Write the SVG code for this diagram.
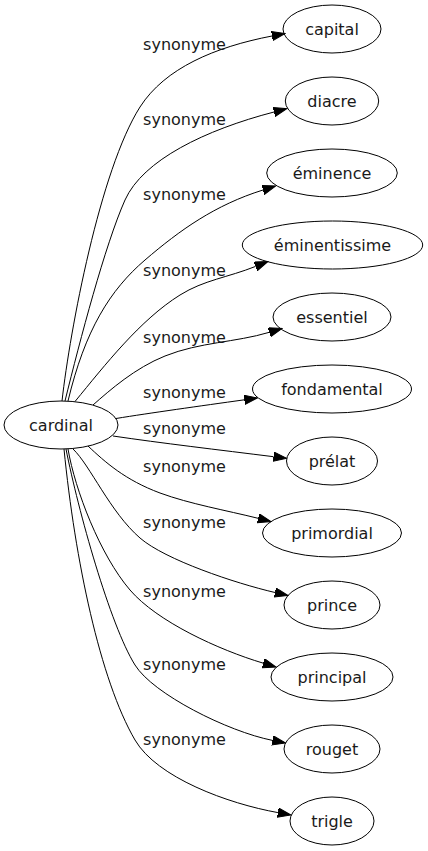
<svg xmlns="http://www.w3.org/2000/svg" width="428" height="851" viewBox="0 0 428 851">
<style>
.n ellipse{fill:none;stroke:#000;stroke-width:1}
text{font-family:"DejaVu Sans","Liberation Sans",sans-serif;font-size:16px;fill:#1a1a1a;text-anchor:middle}
.e path{fill:none;stroke:#000;stroke-width:1;marker-end:url(#ah)}
</style>
<defs>
<marker id="ah" markerUnits="userSpaceOnUse" markerWidth="14" markerHeight="10" refX="0" refY="4.67" orient="auto" viewBox="0 0 14 10">
<path d="M0,0 L13.3,4.67 L0,9.33 Z" fill="#000" stroke="#000" stroke-width="1"/>
</marker>
</defs>
<rect width="428" height="851" fill="#fff"/>
<g id="edges" class="e">
<path d="M62,401 C70,330 100,170 140,107 C165,68 215,47 272,36"/>
<path d="M65,401 C80,340 105,245 125,200 C143,160 205,130 274,112"/>
<path d="M68,401 C85,330 110,290 145,260 C180,230 215,205 263,190"/>
<path d="M75,401.5 C105,365 140,320 180,295 C204,280 227.8,277.5 255.6,266.4"/>
<path d="M93,405 C110,390 135,368 165,356 C200,342 235.3,342.5 269.3,332.3"/>
<path d="M116,418.5 C150,413 200,406 244.4,399.8"/>
<path d="M113,436 C160,443 220,450 273.5,456.7"/>
<path d="M88,446 C105,462 125,480 160,493 C190,504 226,510.3 258.1,518.3"/>
<path d="M73,449 C90,465 110,512 140,538 C165,559.7 235,583.2 275,592.5"/>
<path d="M68,449 C75,490 100,555 130,590 C157,621.5 218.3,649.7 263.3,663.2"/>
<path d="M66,449 C78,510 110,625 135,665 C153,694 227.5,731.4 272.5,740.4"/>
<path d="M64,449 C75,560 100,680 135,740 C157,777.7 227.9,803.6 277.9,812.6"/>
</g>
<g id="edge-labels">
<text x="184.5" y="50">synonyme</text>
<text x="184.5" y="124.5">synonyme</text>
<text x="184.5" y="200">synonyme</text>
<text x="184.5" y="276">synonyme</text>
<text x="184.5" y="343">synonyme</text>
<text x="184.5" y="398">synonyme</text>
<text x="184.5" y="434">synonyme</text>
<text x="184.5" y="472">synonyme</text>
<text x="184.5" y="528">synonyme</text>
<text x="184.5" y="596.5">synonyme</text>
<text x="184.5" y="669.5">synonyme</text>
<text x="184.5" y="744.5">synonyme</text>
</g>
<g id="cardinal" class="n"><ellipse cx="61" cy="425" rx="57" ry="24"/><text x="61" y="430.5">cardinal</text></g>
<g id="capital" class="n"><ellipse cx="332" cy="29" rx="49" ry="24"/><text x="332" y="34.5">capital</text></g>
<g id="diacre" class="n"><ellipse cx="332" cy="101" rx="46.7" ry="24"/><text x="332" y="106.5">diacre</text></g>
<g id="eminence" class="n"><ellipse cx="332" cy="173" rx="65.3" ry="24"/><text x="332" y="178.5">éminence</text></g>
<g id="eminentissime" class="n"><ellipse cx="332.5" cy="245" rx="90.2" ry="24"/><text x="332.5" y="250.5">éminentissime</text></g>
<g id="essentiel" class="n"><ellipse cx="332" cy="317" rx="59" ry="24"/><text x="332" y="322.5">essentiel</text></g>
<g id="fondamental" class="n"><ellipse cx="332" cy="389" rx="79.5" ry="24"/><text x="332" y="394.5">fondamental</text></g>
<g id="prelat" class="n"><ellipse cx="332" cy="461" rx="45.5" ry="24"/><text x="332" y="466.5">prélat</text></g>
<g id="primordial" class="n"><ellipse cx="332" cy="533" rx="69.5" ry="24"/><text x="332" y="538.5">primordial</text></g>
<g id="prince" class="n"><ellipse cx="332" cy="605" rx="48" ry="24"/><text x="332" y="610.5">prince</text></g>
<g id="principal" class="n"><ellipse cx="332" cy="677" rx="61" ry="24"/><text x="332" y="682.5">principal</text></g>
<g id="rouget" class="n"><ellipse cx="332" cy="749" rx="48" ry="24"/><text x="332" y="754.5">rouget</text></g>
<g id="trigle" class="n"><ellipse cx="332" cy="821" rx="42" ry="24"/><text x="332" y="826.5">trigle</text></g>
</svg>
